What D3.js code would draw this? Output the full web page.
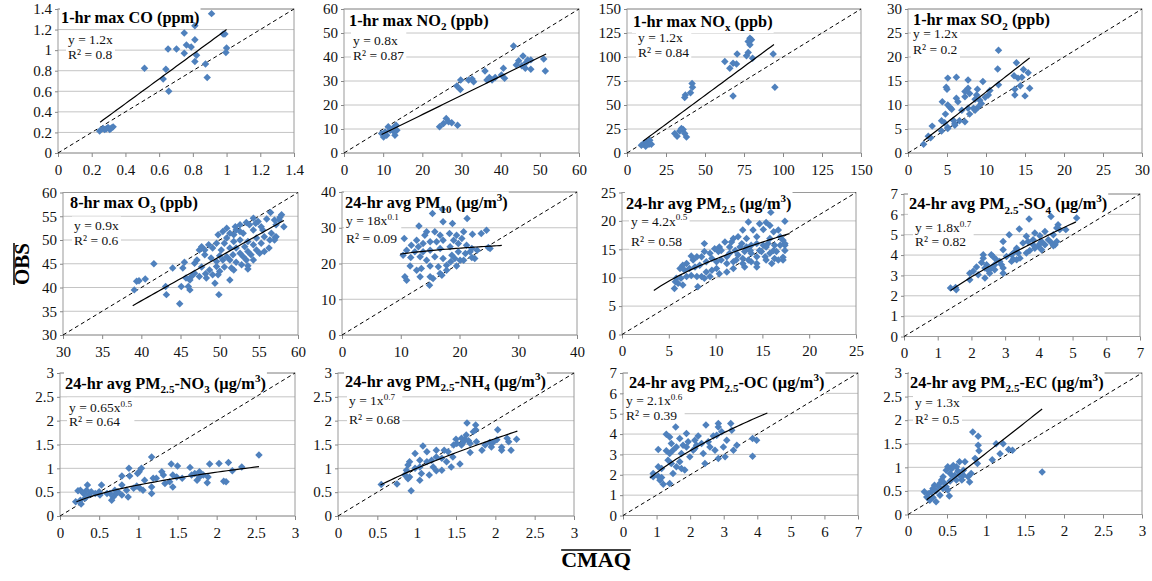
<!DOCTYPE html>
<html lang="en">
<head>
<meta charset="UTF-8">
<title>CMAQ vs OBS</title>
<script src="https://d3js.org/d3.v7.min.js"></script>
<style>
  body { margin: 0; background: #fff; }
  svg { display: block; }
</style>
</head>
<body>
<svg id="chart" width="1152" height="581" font-family="Liberation Serif, serif"></svg>
<script>
// ---- data ----
const titles = [
  "1-hr max CO (ppm)", "1-hr max NO_{2} (ppb)", "1-hr max NO_{x} (ppb)", "1-hr max SO_{2} (ppb)",
  "8-hr max O_{3} (ppb)", "24-hr avg PM_{10} (µg/m^{3})", "24-hr avg PM_{2.5} (µg/m^{3})", "24-hr avg PM_{2.5}-SO_{4} (µg/m^{3})",
  "24-hr avg PM_{2.5}-NO_{3} (µg/m^{3})", "24-hr avg PM_{2.5}-NH_{4} (µg/m^{3})", "24-hr avg PM_{2.5}-OC (µg/m^{3})", "24-hr avg PM_{2.5}-EC (µg/m^{3})"
];
const eqLabels = ["y = 1.2x", "y = 0.8x", "y = 1.2x", "y = 1.2x", "y = 0.9x", "y = 18x^{0.1}",
  "y = 4.2x^{0.5}", "y = 1.8x^{0.7}", "y = 0.65x^{0.5}", "y = 1x^{0.7}", "y = 2.1x^{0.6}", "y = 1.3x"];
const r2Labels = ["R² = 0.8", "R² = 0.87", "R² = 0.84", "R² = 0.2", "R² = 0.6", "R² = 0.09",
  "R² = 0.58", "R² = 0.82", "R² = 0.64", "R² = 0.68", "R² = 0.39", "R² = 0.5"];

const axisMin = [0, 0, 0, 0, 30, 0, 0, 0, 0, 0, 0, 0];
const axisMax = [1.4, 60, 150, 30, 60, 40, 25, 7, 3, 3, 7, 3];
const tickStep = [0.2, 10, 25, 5, 5, 10, 5, 1, 0.5, 0.5, 1, 0.5];

// trend lines y = a * x^b over the model range
const fitA = [1.2, 0.8, 1.2, 1.27, 0.93, 18, 4.2, 1.8, 0.65, 1, 2.1, 1.3];
const fitB = [1, 1, 1, 1, 1, 0.1, 0.5, 0.7, 0.5, 0.7, 0.6, 1];
const fitFrom = [0.25, 9.6, 10.3, 2.0, 38.9, 9.9, 3.4, 1.38, 0.21, 0.54, 0.8, 0.24];
const fitTo = [1.0, 51.6, 94.2, 15.6, 58.2, 27.2, 17.9, 5.1, 2.54, 2.28, 4.3, 1.72];

// points [CMAQ, OBS]
const coPts = [[0.911,1.355],[0.812,1.238],[0.749,1.166],[0.812,1.10],[0.762,1.05],[0.79,1.03],[0.653,1.01],
  [0.703,1.01],[0.749,0.97],[0.822,0.95],[0.812,0.89],[0.875,0.866],[0.513,0.824],[0.640,0.814],[0.624,0.72],
  [0.885,0.733],[0.657,0.60],[0.98,1.156],[0.99,1.156],[1.0,1.02],[0.996,0.977],[0.247,0.215],[0.277,0.228],
  [0.297,0.248],[0.327,0.254],[0.307,0.228],[0.267,0.238],[0.287,0.235],[0.317,0.244]];
const no2Pts = [[43.3,44.6],[51,39.2],[51.4,34.2],[45.7,40.4],[44.6,38.4],[44,36.7],[45.4,36.4],[46.5,37.7],
  [46.3,35.3],[47.7,38.8],[47.7,34.9],[46.9,38.8],[40.7,35.3],[41,31.1],[40.2,32.5],[36,34.2],[36.5,30.4],
  [37.1,31.5],[37.8,30.4],[38.6,31.5],[29.8,30.4],[28.8,27.9],[29.7,26.5],[31.8,30.4],[33.1,29.7],[32.7,30.8],
  [24.4,10.9],[25.4,12.3],[26.1,14.4],[26.7,13.0],[27.5,12.6],[29,11.6],[9.6,8.1],[10.1,6.7],[10.5,8.8],
  [10.9,7.4],[12.6,10.5],[13,7.4],[13.3,11.6],[13.5,9.5],[12.8,8.8],[11.8,9.5],[11.3,10.9]];
const noxPts = [[78.8,119.6],[79.8,117.9],[78.8,112.7],[77.7,116.1],[77.7,104.6],[76.6,101.2],[80.5,98.7],
  [70.6,103.2],[70.2,92.8],[68.0,93.5],[62.7,95.2],[65.9,88.2],[68.0,59.3],[93.7,103.2],[94.8,68.4],[41.7,72.5],
  [42.0,68.4],[40.7,62.8],[37.4,60.3],[37.0,57.9],[36.0,24.4],[34.9,25.5],[37.0,20.2],[38.1,16.7],[30.6,20.2],
  [32.1,17.4],[33.8,23],[10.3,9.1],[11.3,10.5],[12.8,11.5],[14.6,13.3],[14.1,9.1],[15.6,9.1],[12,7],[9.2,8]];
const so2Pts = [[11.6,21.4],[11.5,17.5],[13.9,18.8],[14.8,17.4],[15.4,16.7],[13.6,16.1],[14.1,15.6],[14.4,14.0],
  [13.7,13.3],[13.7,12.1],[15.0,11.9],[15.6,13.5],[14.6,15.8],[11.6,14.2],[9.6,14.9],[8.9,13.3],[8.8,12.1],
  [9.2,11.0],[8.6,11.2],[9.0,9.6],[8.4,9.3],[7.9,8.1],[7.7,9.3],[7.9,12.4],[7.7,15.2],[7.7,13.5],[7.3,12.8],
  [7.3,11.7],[6.2,15.8],[6.2,11.4],[6.4,10.7],[5.1,15.6],[4.9,13.7],[5.0,13.3],[4.4,10.7],[5.1,10],[5.4,9.5],
  [5.6,9.1],[4.8,8.1],[4.7,6.3],[4.3,6.7],[5.8,6.8],[6.0,6.1],[6.6,6.7],[7.3,6.5],[6.0,5.8],[5.1,5.3],[5.1,5.1],
  [3.1,5.6],[2.6,3.5],[2.9,3.2],[2.0,1.8],[4.3,4.6],[9.9,11.6],[10.3,12.1],[10.5,13],[9.4,10.3],[8.6,8.9],[6.9,8.9]];
const o3Pts = [[56.5,55.8],[57.9,55.3],[57.7,54.8],[54.3,54.6],[56,54.4],[57,54.2],[58.2,52.8],[54.9,53.9],
  [53.4,53.7],[52.6,53.2],[52.1,52.1],[51.3,51.4],[50.4,51.8],[49.8,51.1],[50.9,50.4],[51.8,51.1],[53,51.4],
  [54.3,52.1],[55.5,52.1],[56.6,51.4],[57.2,53.2],[55.7,50.7],[54.7,50.4],[53.6,49.7],[52.6,50.0],[51.8,49.7],
  [50.6,49.3],[49.6,49.3],[48.6,49.0],[47.7,48.6],[48.1,47.9],[49.1,48.3],[50.2,47.9],[51.3,48.3],[52.1,48.3],
  [53.2,48.6],[54.3,49.0],[55.3,49.3],[56.4,50.0],[57.2,50.7],[57.1,50.6],[56.3,48.3],[54.7,47.9],[53.6,47.6],
  [52.6,47.2],[51.7,46.9],[50.9,46.5],[50,46.7],[51.3,45.8],[52.1,45.3],[53.4,45.8],[53.6,44.6],[53.6,43.9],
  [53,46.5],[54,46.9],[51.5,44.1],[51.3,41.6],[50.6,44.3],[49.6,44.4],[48.7,43.7],[48.2,42.9],[47.7,44.3],
  [47.4,42.3],[48.3,42.0],[49.1,42.7],[49.4,40.9],[49.9,38.5],[46.8,45.1],[46.8,43.0],[46.4,42.3],[46.2,41.6],
  [45.7,42.0],[45.3,44.1],[45.5,45.3],[46,40.2],[46.2,39.5],[45.1,40.2],[44.9,36.6],[43.1,40.2],[43.2,38.5],
  [44,44.1],[41.6,45.0],[40.5,41.8],[39.7,41.4],[39.4,41.3],[39.1,39.5],[47.1,45.8],[47.4,47.9],[48.1,46.9],
  [48.9,46.2],[49.6,45.5],[50,43.4],[50.4,45.8],[51.8,43.7],[52.8,44.8],[54.3,45.8],[55.1,47.2],[55.7,47.6],
  [57,50.0],[57.6,54.2],[52.6,51.8],[52,52.8],[50.9,52.5],[53.8,53.2],[55.3,52.8],[54.6,53.5],[49.8,42.7]];
const pm10Pts = [[15.4,34.0],[17.1,35.2],[17.2,31.7],[18.8,31.2],[21.3,32.6],[13.1,30.5],[14.4,28.9],[14.1,27.9],
  [15.8,28.9],[16.7,27.9],[18.3,28.4],[19.5,27.9],[20.7,28.9],[22.2,28.2],[23.7,28.4],[24.6,29.3],[10.6,27.0],
  [12.7,26.5],[11.8,25.1],[13,24.7],[13.8,25.6],[15,26.1],[16.1,26.1],[17.2,26.5],[19,26.5],[20.4,27.0],
  [19.8,25.6],[21.2,25.1],[18.4,24.7],[16.7,24.2],[15,23.7],[13.8,23.3],[12.4,23.3],[11,23.7],[10.4,22.3],
  [11.7,21.7],[13.3,21.9],[14.4,20.9],[15.8,21.9],[17.2,21.4],[18.7,22.3],[19.8,23.3],[21,22.8],[21.8,23.3],
  [23,23.7],[22.6,21.4],[22.1,21.7],[25.2,24.2],[24.9,24.5],[20.1,20.9],[19.5,19.3],[17.8,19.5],[16.4,19.1],
  [15,19.3],[13.5,18.6],[12.7,18.1],[11.6,19.3],[13.3,16.3],[15,16.3],[16.7,17.2],[17.8,18.1],[10.7,16.3],
  [11,15.3],[14.9,13.9],[15.5,15.8],[17,16.7],[18.5,20.5],[19.2,21.4],[20.7,20.9],[22.1,24.2]];
const pm25Pts = [[15.9,21.5],[17.4,19.95],[13.5,19.8],[14.7,19.5],[15.4,19.7],[15.8,19.2],[12.9,18.4],[14,18.4],
  [15.1,18.5],[16.2,18.1],[16.7,18.4],[12.4,17.2],[11.9,16.9],[13.3,16.9],[14.4,17.2],[15.8,16.9],[16.9,17.2],
  [17.4,15.7],[17.4,16.0],[17.2,13.1],[17.2,13.6],[16.5,14.6],[16.3,13.4],[15.8,14.3],[15.3,13.7],[14.7,14.8],
  [14.4,13.7],[13.8,14.3],[13.5,13.1],[12.9,13.4],[12.9,12.5],[12.6,15.4],[12.1,14.8],[11.5,15.4],[11.5,14.3],
  [11.2,13.7],[11,16.3],[10.4,15.4],[10.3,14.6],[9.9,15.1],[9.4,14.3],[8.8,14.6],[8.8,16.0],[8.5,13.7],[8,13.7],
  [7.6,13.1],[7.4,13.8],[6.9,12.5],[6.5,12.2],[6.2,11.6],[6.7,11.3],[7.2,11.6],[7.8,11.9],[8.3,12.2],[9.0,12.8],
  [9.6,13.4],[10.1,12.8],[10.6,13.1],[11.2,12.5],[11.9,12.8],[12.4,14.0],[10.1,11.6],[9.6,11.3],[9.0,11.0],
  [8.5,10.2],[8.8,9.9],[9.4,10.2],[8.0,10.2],[7.4,10.4],[6.9,10.2],[6.3,9.9],[5.8,9.9],[5.7,9.3],[5.6,8.1],
  [6,9.0],[6.5,8.7],[8.1,8.4],[10.4,10.7],[11.2,11.0],[11.9,11.6],[13.1,11.9],[14.4,11.9],[15.4,13.1],[16,12.5],
  [16.7,13.1],[17.4,14.8],[17.2,16.6],[16.9,15.7],[16.3,15.7],[15.6,16.0],[15.1,15.7],[14.4,16.0],[13.8,15.7],
  [13.3,15.4],[13.7,14.8],[14.9,14.6],[10.6,14.8],[11.7,16.3],[12.8,16.0],[13.1,14.6],[15.4,15.4],[16.2,14.8],
  [14.4,12.5],[13.8,12.8],[12.2,13.1]];
const so4Pts = [[4.36,5.9],[3.71,5.77],[5.12,5.82],[3.42,5.28],[3.12,5.0],[3.88,5.08],[4.03,4.95],[4.18,5.16],
  [4.43,5.0],[4.57,5.49],[4.62,5.25],[4.53,5.33],[4.8,5.25],[3.63,4.92],[3.68,4.67],[3.83,4.75],[3.53,4.59],
  [3.34,4.34],[2.94,4.67],[2.94,4.26],[3.04,3.93],[3.19,4.02],[3.29,4.18],[3.39,4.1],[3.24,3.8],[3.34,3.77],
  [4.08,4.67],[4.18,4.51],[4.28,4.75],[4.38,4.59],[3.98,4.43],[4.08,4.26],[4.48,4.51],[4.53,4.67],[4.03,4.56],
  [3.83,4.51],[3.73,4.23],[3.88,4.34],[4.43,4.46],[2.35,4.02],[2.35,3.85],[2.59,4.02],[2.64,3.93],[2.74,3.77],
  [2.84,3.69],[2.3,3.64],[2.45,3.52],[2.4,3.36],[2.59,3.36],[2.69,3.28],[2.89,3.52],[2.94,3.11],[2.5,3.25],
  [2.54,3.11],[2.69,3.52],[2.4,2.87],[2.15,3.41],[1.95,3.11],[2.05,3.2],[1.95,2.79],[2.2,3.03],[1.38,2.38],
  [1.55,2.3],[1.53,2.41],[2.94,3.36],[3.19,3.69],[3.44,3.85],[3.63,4.1]];
const no3Pts = [[2.54,1.28],[1.91,1.09],[2.03,1.10],[2.15,1.12],[2.2,0.95],[2.32,1.03],[2.09,0.73],[2.12,0.72],
  [1.78,0.93],[1.72,0.89],[1.78,0.82],[1.83,0.86],[1.89,0.82],[1.88,0.70],[1.75,0.75],[1.66,1.02],[1.68,0.86],
  [1.56,0.79],[1.49,0.82],[1.44,0.86],[1.42,1.09],[1.5,1.05],[1.44,0.61],[1.4,0.72],[1.34,0.68],[1.32,0.86],
  [1.3,0.93],[1.23,0.79],[1.17,1.24],[1.17,0.61],[1.17,0.47],[1.19,0.79],[1.08,0.75],[1.04,1.0],[1.01,0.93],
  [0.99,0.89],[1.02,0.58],[1.06,0.54],[0.98,0.63],[0.94,0.58],[0.88,1.0],[0.89,0.84],[0.87,0.40],[0.85,0.54],
  [0.79,0.65],[0.79,0.84],[0.70,0.54],[0.68,0.40],[0.66,0.33],[0.64,0.47],[0.6,0.47],[0.53,0.65],[0.5,0.51],
  [0.51,0.44],[0.45,0.47],[0.4,0.51],[0.37,0.44],[0.35,0.65],[0.34,0.54],[0.3,0.47],[0.26,0.33],[0.26,0.54],
  [0.23,0.53],[0.27,0.25],[0.2,0.30],[0.32,0.37],[0.72,0.47],[0.79,0.44],[0.74,0.51]];
const nh4Pts = [[1.64,1.95],[1.75,1.91],[1.75,1.81],[1.72,1.77],[1.63,1.70],[1.61,1.61],[1.66,1.58],[1.57,1.63],
  [1.5,1.61],[1.51,1.52],[1.47,1.49],[1.57,1.49],[1.59,1.54],[1.68,1.52],[1.76,1.56],[1.83,1.38],[1.87,1.49],
  [1.93,1.54],[1.97,1.54],[2.02,1.6],[2.03,1.81],[1.95,1.45],[2.08,1.44],[2.15,1.63],[2.17,1.56],[2.27,1.61],
  [2.08,1.38],[2.2,1.38],[1.68,1.33],[1.55,1.09],[1.46,1.24],[1.44,1.03],[1.35,1.38],[1.4,1.35],[1.32,1.21],
  [1.32,0.96],[1.25,0.95],[1.25,1.24],[1.25,1.38],[1.19,1.17],[1.13,1.14],[1.16,0.86],[1.08,1.47],[1.13,1.35],
  [1.04,1.17],[1.04,1.03],[1.04,0.75],[1.06,0.89],[0.98,1.31],[0.98,1.0],[0.91,1.14],[0.89,1.07],[0.87,0.96],
  [0.85,0.86],[0.91,0.82],[0.89,0.78],[0.93,0.53],[0.75,0.67],[0.55,0.66],[1.21,1.03],[1.38,1.14]];
const ocPts = [[1.57,4.35],[2.47,4.44],[2.84,4.35],[3.21,4.52],[2.84,4.52],[1.29,3.99],[1.39,3.86],[1.69,3.78],
  [1.89,4.03],[2.24,3.9],[2.34,3.54],[2.14,3.7],[1.94,3.62],[1.79,3.45],[1.59,3.37],[1.44,3.54],[1.49,3.21],
  [1.39,3.04],[1.29,3.18],[1.34,2.72],[1.05,3.24],[1.15,2.31],[1.05,2.39],[1.05,1.93],[0.9,1.9],[1.15,1.87],
  [1.1,1.73],[1.2,1.54],[1.39,1.57],[1.49,2.06],[1.59,2.39],[1.69,2.64],[1.74,2.31],[1.84,2.23],[1.99,2.88],
  [2.09,3.21],[2.39,3.04],[2.44,2.55],[2.59,3.37],[2.54,3.62],[2.74,3.21],[2.84,2.8],[2.99,3.37],[3.04,2.88],
  [3.09,3.7],[2.79,3.94],[2.69,3.9],[2.94,4.11],[3.24,4.19],[3.29,3.21],[3.39,3.45],[3.86,3.78],[3.98,3.70],
  [3.86,2.91],[2.14,3.29],[1.89,3.37],[2.19,3.45],[1.44,2.55],[1.74,3.04],[0.9,2.06]];
const ecPts = [[0.83,1.75],[0.9,1.66],[0.9,1.47],[0.91,1.35],[0.86,1.19],[0.89,1.08],[1.13,1.5],[1.22,1.5],
  [1.29,1.38],[1.34,1.36],[1.18,1.29],[1.08,1.16],[1.72,0.90],[0.81,0.87],[0.77,0.80],[0.79,0.69],[0.71,0.83],
  [0.73,1.12],[0.66,1.12],[0.62,1.01],[0.58,1.04],[0.56,0.97],[0.51,1.01],[0.49,0.94],[0.54,0.87],[0.6,0.83],
  [0.66,0.83],[0.69,0.73],[0.62,0.73],[0.58,0.8],[0.45,0.8],[0.43,0.73],[0.41,0.66],[0.47,0.66],[0.49,0.59],
  [0.51,0.52],[0.45,0.55],[0.39,0.6],[0.34,0.62],[0.32,0.55],[0.36,0.5],[0.3,0.48],[0.26,0.44],[0.24,0.37],
  [0.28,0.3],[0.32,0.36],[0.36,0.27],[0.41,0.41],[0.53,0.39],[0.21,0.48],[0.54,0.71],[0.64,0.92],[0.71,0.94]];

const allPts = [coPts, no2Pts, noxPts, so2Pts, o3Pts, pm10Pts, pm25Pts, so4Pts, no3Pts, nh4Pts, ocPts, ecPts];

// ---- layout ----
const FONT = "Liberation Serif, serif";
const plotLeft = [58, 344, 627, 908, 63, 342, 622, 904, 60, 338, 623, 908];
const plotRight = [294, 579, 861, 1142, 298, 577, 856, 1140, 295, 574, 858, 1142];
const plotTop = [9, 9, 9, 9, 192.5, 192, 192.5, 194, 373, 373, 373, 373];
const plotBottom = [153, 153, 153, 153, 335, 335, 334.5, 336.5, 516, 516, 515.5, 514.5];
// title / equation offsets from the plot's top-left corner
const titleDx = [3, 5, 6, 5, 7, 3, 4, 5, 5, 7, 6, 2];
const titleDy = [14, 16.5, 17.5, 16, 15.5, 16, 16, 15, 15.5, 13.5, 14.5, 14.5];
const eqDx = [10, 9, 11, 5, 11, 4, 9, 11, 9, 11, 3, 7];
const eqDy = [35, 36, 32.5, 29, 37, 33, 33, 38, 39, 32, 32, 34];
const r2Dy = [50, 51, 47.5, 45, 52, 51, 53, 52, 53, 51, 47, 51];

const svg = d3.select("#chart");
svg.append("rect").attr("width", 1152).attr("height", 581).attr("fill", "#fff");

// writes text with _{sub} and ^{sup} pieces as tspans
function richText(sel, str, size) {
  const parts = str.split(/([_^]\{[^}]*\})/).filter(s => s.length);
  let prev = 0;
  parts.forEach(p => {
    let dy = 0, txt = p, fs = size;
    if (p[0] === "_") { txt = p.slice(2, -1); dy = size * 0.28; fs = size * 0.68; }
    else if (p[0] === "^") { txt = p.slice(2, -1); dy = -size * 0.4; fs = size * 0.68; }
    sel.append("tspan").attr("dy", dy - prev).attr("font-size", fs).text(txt);
    prev = dy;
  });
}

function addLabels(g, i) {
  const t = g.append("text")
    .attr("x", plotLeft[i] + titleDx[i]).attr("y", plotTop[i] + titleDy[i])
    .attr("font-family", FONT).attr("font-weight", "bold").attr("fill", "#000");
  richText(t, titles[i], 16.3);
  const e = g.append("g");
  const et = e.append("text").attr("x", plotLeft[i] + eqDx[i]).attr("y", plotTop[i] + eqDy[i])
    .attr("font-family", FONT).attr("fill", "#111");
  richText(et, eqLabels[i], 13.5);
  e.append("text").attr("x", plotLeft[i] + eqDx[i]).attr("y", plotTop[i] + r2Dy[i])
    .attr("font-family", FONT).attr("font-size", 13.5).attr("fill", "#111").text(r2Labels[i]);
  return [t.node().getBBox(), e.node().getBBox()];
}

allPts.forEach((pts, i) => {
  const x = d3.scaleLinear().domain([axisMin[i], axisMax[i]]).range([plotLeft[i], plotRight[i]]);
  const y = d3.scaleLinear().domain([axisMin[i], axisMax[i]]).range([plotBottom[i], plotTop[i]]);
  const ticks = d3.range(axisMin[i], axisMax[i] + tickStep[i] / 2, tickStep[i]).map(v => +v.toFixed(3));
  const g = svg.append("g");

  // gridlines + frame
  g.append("g").selectAll("line").data(ticks).join("line")
    .attr("x1", plotLeft[i]).attr("x2", plotRight[i])
    .attr("y1", d => y(d)).attr("y2", d => y(d))
    .attr("stroke", "#c4c4c4").attr("stroke-width", 1);
  g.append("rect")
    .attr("x", plotLeft[i]).attr("y", plotTop[i])
    .attr("width", plotRight[i] - plotLeft[i]).attr("height", plotBottom[i] - plotTop[i])
    .attr("fill", "none").attr("stroke", "#9a9a9a");

  // axes
  const fmt = d => String(d);
  const styleAxis = a => {
    a.attr("font-family", FONT).attr("font-size", 15);
    a.select(".domain").remove();
    a.selectAll(".tick line").attr("stroke", "#888");
    a.selectAll(".tick text").attr("fill", "#111");
  };
  g.append("g").attr("transform", `translate(0,${plotBottom[i]})`)
    .call(d3.axisBottom(x).tickValues(ticks).tickFormat(fmt).tickSize(4).tickPadding(7))
    .call(styleAxis);
  g.append("g").attr("transform", `translate(${plotLeft[i]},0)`)
    .call(d3.axisLeft(y).tickValues(ticks).tickFormat(fmt).tickSize(3).tickPadding(3))
    .call(styleAxis);

  // white boxes behind the labels (measured from a temporary copy)
  const tmp = g.append("g");
  const [tb, eb] = addLabels(tmp, i);
  tmp.remove();
  g.append("rect").attr("x", tb.x - 1).attr("y", tb.y).attr("width", tb.width + 2).attr("height", tb.height)
    .attr("fill", "#fff");
  g.append("rect").attr("x", eb.x - 2).attr("y", eb.y - 1).attr("width", eb.width + 4).attr("height", eb.height + 2)
    .attr("fill", "#fff");

  // 1:1 line
  g.append("line")
    .attr("x1", x(axisMin[i])).attr("y1", y(axisMin[i]))
    .attr("x2", x(axisMax[i])).attr("y2", y(axisMax[i]))
    .attr("stroke", "#000").attr("stroke-width", 1).attr("stroke-dasharray", "4,3");

  // points
  g.append("g").selectAll("path").data(pts).join("path")
    .attr("d", d3.symbol(d3.symbolSquare, 28))
    .attr("transform", d => `translate(${x(d[0])},${y(d[1])}) rotate(45)`)
    .attr("fill", "#4f81bd");

  // trend line
  const xs = d3.range(0, 41).map(k => fitFrom[i] + (fitTo[i] - fitFrom[i]) * k / 40);
  g.append("path")
    .datum(xs)
    .attr("d", d3.line().x(d => x(d)).y(d => y(fitA[i] * Math.pow(d, fitB[i]))))
    .attr("fill", "none").attr("stroke", "#000").attr("stroke-width", 1.2);

  addLabels(g, i);
});

// shared axis titles with overbars
const obs = svg.append("text")
  .attr("transform", "translate(29,264) rotate(-90)")
  .attr("text-anchor", "middle").attr("font-weight", "bold")
  .attr("font-family", FONT).attr("font-size", 21).text("OBS");
const ob = obs.node().getBBox();
svg.append("line")
  .attr("x1", 14).attr("x2", 14)
  .attr("y1", 264 - ob.width / 2).attr("y2", 264 + ob.width / 2)
  .attr("stroke", "#000").attr("stroke-width", 1.5);

const cmaq = svg.append("text")
  .attr("x", 596).attr("y", 567)
  .attr("text-anchor", "middle").attr("font-weight", "bold")
  .attr("font-family", FONT).attr("font-size", 22).text("CMAQ");
const cb = cmaq.node().getBBox();
svg.append("line")
  .attr("x1", cb.x).attr("x2", cb.x + cb.width)
  .attr("y1", 550).attr("y2", 550)
  .attr("stroke", "#000").attr("stroke-width", 1.5);
</script>
</body>
</html>
